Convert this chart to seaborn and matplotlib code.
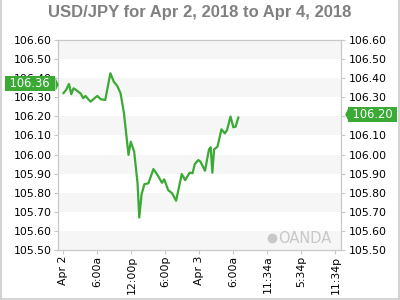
import matplotlib
matplotlib.use("Agg")
import matplotlib.pyplot as plt
import matplotlib.transforms as mtransforms
from matplotlib.lines import Line2D
import pandas as pd
import seaborn as sns

# ---- data ----
title = "USD/JPY for Apr 2, 2018 to Apr 4, 2018"
hours = [0.0, 0.5, 1.0, 1.4, 1.8, 2.3, 3.1, 3.5, 3.9, 4.8, 5.5, 6.0, 6.6, 7.4,
         8.3, 8.9, 9.5, 10.1, 10.7, 11.5, 11.9, 12.5, 13.1, 13.4, 13.8, 14.3,
         15.0, 15.9, 16.8, 17.4, 17.8, 18.5, 19.2, 19.9, 20.9, 21.5, 22.3, 22.8,
         23.2, 23.8, 24.2, 25.0, 25.7, 26.0, 26.3, 26.6, 27.2, 27.9, 28.5, 28.9,
         29.5, 30.0, 30.4, 30.9]
prices = [106.321, 106.339, 106.370, 106.316, 106.347, 106.337, 106.318, 106.295,
          106.307, 106.277, 106.295, 106.307, 106.290, 106.286, 106.426, 106.382,
          106.360, 106.321, 106.216, 105.998, 106.067, 106.015, 105.849, 105.670,
          105.790, 105.845, 105.849, 105.924, 105.884, 105.852, 105.870, 105.814,
          105.797, 105.758, 105.898, 105.866, 105.905, 105.902, 105.950, 105.971,
          105.963, 105.915, 106.027, 106.038, 105.905, 106.027, 106.041, 106.132,
          106.111, 106.129, 106.199, 106.143, 106.146, 106.195]
xtick_hours = [0, 6, 12, 18, 24, 30, 36, 42, 48]
xtick_labels = ["Apr 2", "6:00a", "12:00p", "6:00p", "Apr 3", "6:00a",
                "11:34a", "5:34p", "11:34p"]
ytick_values = [105.50, 105.60, 105.70, 105.80, 105.90, 106.00,
                106.10, 106.20, 106.30, 106.40, 106.50, 106.60]
open_label = 106.36
last_label = 106.20

GREEN = "#3aaa35"
FRAME = "#c8c8c8"

sns.set_theme(style="white")
plt.rcParams['font.family'] = ['DejaVu Sans']

fig = plt.figure(figsize=(4, 3), dpi=100)
W, H = 400, 300
ax = fig.add_axes([58 / W, 50 / H, 283 / W, 210 / H])

# alternating bands
for i in range(0, len(ytick_values) - 1, 2):
    ax.axhspan(ytick_values[i], ytick_values[i + 1], color="#f6f6f6", lw=0, zorder=0)

df = pd.DataFrame({"hour": hours, "price": prices})
sns.lineplot(data=df, x="hour", y="price", ax=ax, color=GREEN, linewidth=1.6,
             zorder=3)

ax.set_xlim(-0.94, 49)
ax.set_ylim(ytick_values[0], ytick_values[-1])
ax.set_xlabel("")
ax.set_ylabel("")
ax.set_xticks(xtick_hours)
ax.set_xticklabels(xtick_labels, rotation=90, va="top", ha="center")
ax.set_yticks(ytick_values)
ax.set_yticklabels([f"{v:.2f}" for v in ytick_values])
ax.tick_params(axis="x", bottom=True, length=3, width=0.8, color=FRAME,
               labelsize=7.8, labelcolor="#000000", pad=1)
ax.tick_params(axis="y", left=True, length=3, width=0.8, color=FRAME,
               labelsize=7.8, labelcolor="#000000", pad=1.2)
for s in ax.spines.values():
    s.set_color(FRAME)
    s.set_linewidth(0.9)

ax2 = ax.twinx()
ax2.set_ylim(ax.get_ylim())
ax2.set_yticks(ytick_values)
ax2.set_yticklabels([f"{v:.2f}" for v in ytick_values])
ax2.tick_params(axis="y", right=True, length=3, width=0.8, color=FRAME,
                labelsize=7.8, labelcolor="#000000", pad=2.4)
ax2.grid(False)
for s in ax2.spines.values():
    s.set_visible(False)

# value flags (drawn on the top axes so they cover tick labels)
def px(dx, dy):
    return mtransforms.ScaledTranslation(dx / 100, dy / 100, fig.dpi_scale_trans)

blend = mtransforms.blended_transform_factory(ax2.transAxes, ax2.transData)
ax2.annotate(f" {open_label:.2f} ", xy=(0, open_label), xycoords=blend,
             xytext=(-4.4 * 0.72, 2 * 0.72), textcoords="offset points",
             ha="right", va="center", fontsize=8.3, color="white",
             bbox=dict(boxstyle="square,pad=0.1", fc=GREEN, ec="none"),
             annotation_clip=False, zorder=10)
ax2.plot([0], [open_label], marker=[(0, 1), (0, -1), (0.5, 0)], markersize=9.5,
         color=GREEN, mec="none", transform=blend + px(-3.4, 2), clip_on=False,
         zorder=10)

ax2.annotate(f" {last_label:.2f} ", xy=(1, last_label), xycoords=blend,
             xytext=(8.0 * 0.72, 2 * 0.72), textcoords="offset points",
             ha="left", va="center", fontsize=8.3, color="white",
             bbox=dict(boxstyle="square,pad=0.1", fc=GREEN, ec="none"),
             annotation_clip=False, zorder=10)
ax2.plot([1], [last_label], marker=[(0, 1), (0, -1), (-0.5, 0)], markersize=9.5,
         color=GREEN, mec="none", transform=blend + px(7.0, 2), clip_on=False,
         zorder=10)

# watermark
ax.plot([(272 - 58) / 283], [(250 - 237.7) / 210], marker="o", markersize=7,
        color="#c8c8c8", mec="none", transform=ax.transAxes, zorder=2)
ax.text((278 - 58) / 283, (250 - 243) / 210, "OANDA", transform=ax.transAxes,
        fontsize=10.5, color="#c8c8c8", va="baseline", ha="left", zorder=2)

# title
fig.text(0.5, 1 - 17.3 / H, title, ha="center", va="baseline", fontsize=12,
         fontweight="bold", color="#808080", family=["Liberation Sans", "DejaVu Sans"])

# outer frame
for xs, ys in [([1 / W, 1 / W], [0, 1]), ([1 / W, 398.5 / W], [1.5 / H, 1.5 / H]),
               ([398.5 / W, 398.5 / W], [0, 1])]:
    fig.add_artist(Line2D(xs, ys, color="#cccccc", lw=1.2, transform=fig.transFigure))

fig.savefig("out.png", dpi=100)
